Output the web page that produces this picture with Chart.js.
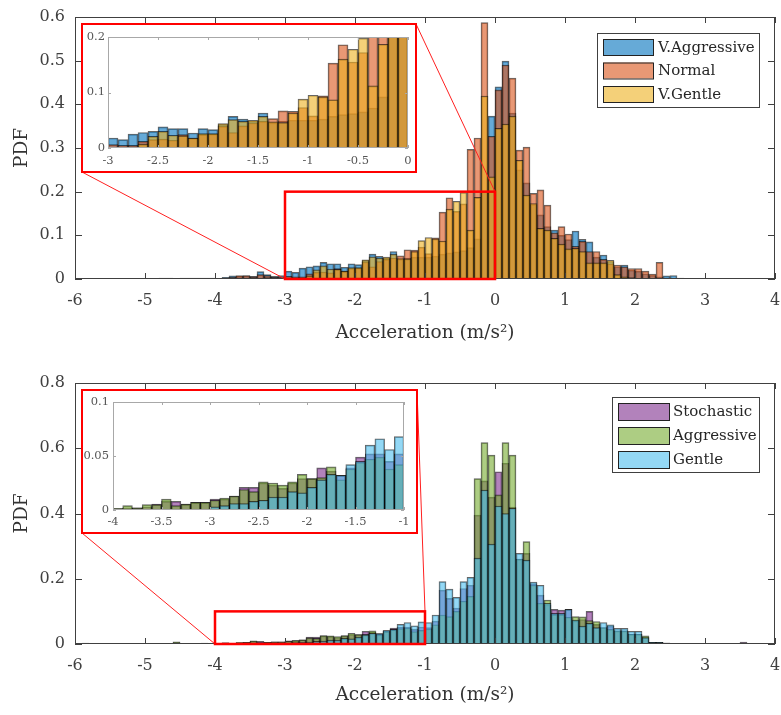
<!DOCTYPE html>
<html>
<head>
<meta charset="utf-8">
<script src="https://cdn.jsdelivr.net/npm/chart.js@4.4.0/dist/chart.umd.min.js"></script>
<style>
  body { margin: 0; background: #fff; }
  #wrap { position: relative; width: 781px; height: 715px; background: #fff; overflow: hidden; }
  canvas { position: absolute; }
  .inset { position: absolute; box-sizing: border-box; border: 2px solid #ff0000; background: #fff; }
  .inset canvas { left: 0; top: 0; }
</style>
</head>
<body>
<div id="wrap">
  <canvas id="top" width="781" height="350" style="left:0;top:0"></canvas>
  <canvas id="bot" width="781" height="360" style="left:0;top:355px"></canvas>
  <div class="inset" id="topInsetBox" style="left:81px;top:23px;width:336px;height:150px"><canvas id="topInset" width="332" height="146"></canvas></div>
  <div class="inset" id="botInsetBox" style="left:81px;top:389px;width:337px;height:145px"><canvas id="botInset" width="333" height="141"></canvas></div>
</div>
<script>
// histogram bins: 0.1 wide, first bin starts at -6
const binStart = -6;
const binWidth = 0.1;

// top panel (PDF per bin, -6.0 ... 3.9)
const vAggressive = [
  0, 0, 0, 0, 0, 0, 0, 0, 0, 0,
  0, 0, 0.002, 0.002, 0, 0, 0, 0, 0, 0,
  0, 0.004, 0.007, 0.006, 0.007, 0.006, 0.017, 0.010, 0.006, 0.008,
  0.018, 0.015, 0.025, 0.028, 0.030, 0.038, 0.035, 0.035, 0.027, 0.035,
  0.033, 0.042, 0.057, 0.052, 0.048, 0.063, 0.045, 0.048, 0.050, 0.050,
  0.050, 0.052, 0.057, 0.060, 0.062, 0.065, 0.072, 0.092, 0.200, 0.373,
  0.440, 0.499, 0.380, 0.250, 0.220, 0.170, 0.147, 0.120, 0.112, 0.100,
  0.090, 0.110, 0.091, 0.085, 0.050, 0.055, 0.040, 0.028, 0.032, 0.020,
  0.018, 0.012, 0.008, 0.005, 0.007, 0.008, 0.002, 0.001, 0, 0,
  0, 0, 0, 0, 0, 0, 0, 0, 0, 0
];
const normal = [
  0, 0, 0, 0, 0, 0, 0, 0, 0, 0,
  0, 0, 0, 0, 0, 0.002, 0.002, 0, 0, 0,
  0, 0, 0.004, 0.008, 0.008, 0.005, 0.010, 0.008, 0.004, 0.005,
  0.006, 0.005, 0.005, 0.012, 0.015, 0.016, 0.014, 0.024, 0.018, 0.024,
  0.025, 0.039, 0.028, 0.040, 0.045, 0.048, 0.053, 0.067, 0.066, 0.073,
  0.058, 0.094, 0.153, 0.186, 0.155, 0.172, 0.297, 0.323, 0.587, 0.327,
  0.433, 0.490, 0.460, 0.295, 0.302, 0.196, 0.204, 0.169, 0.106, 0.120,
  0.103, 0.075, 0.086, 0.063, 0.063, 0.045, 0.035, 0.032, 0.028, 0.024,
  0.024, 0.018, 0.011, 0.038, 0.002, 0, 0, 0, 0, 0,
  0, 0, 0, 0, 0, 0, 0, 0, 0, 0
];
const vGentle = [
  0, 0, 0, 0, 0, 0, 0, 0, 0, 0,
  0, 0, 0, 0, 0, 0, 0, 0.002, 0.002, 0.002,
  0, 0, 0, 0, 0.002, 0, 0, 0.003, 0, 0.002,
  0, 0.001, 0.002, 0.007, 0.021, 0.030, 0.023, 0.022, 0.018, 0.026,
  0.026, 0.044, 0.051, 0.048, 0.050, 0.057, 0.047, 0.046, 0.063, 0.088,
  0.095, 0.092, 0.087, 0.160, 0.178, 0.198, 0.112, 0.187, 0.419, 0.234,
  0.345, 0.355, 0.373, 0.272, 0.192, 0.173, 0.116, 0.112, 0.093, 0.080,
  0.069, 0.070, 0.063, 0.037, 0.037, 0.037, 0.043, 0.010, 0.005, 0.003,
  0, 0, 0, 0, 0, 0, 0, 0, 0, 0,
  0, 0, 0, 0, 0, 0, 0, 0, 0, 0
];

// bottom panel
const stochastic = [
  0, 0.003, 0, 0, 0, 0, 0, 0, 0, 0,
  0, 0, 0, 0, 0.004, 0, 0, 0, 0.003, 0,
  0.001, 0.002, 0.002, 0.003, 0.0055, 0.008, 0.008, 0.0055, 0.007, 0.007,
  0.010, 0.010, 0.013, 0.021, 0.021, 0.025, 0.023, 0.020, 0.025, 0.029,
  0.029, 0.039, 0.036, 0.032, 0.039, 0.049, 0.052, 0.052, 0.045, 0.052,
  0.050, 0.070, 0.165, 0.140, 0.110, 0.170, 0.180, 0.395, 0.500, 0.450,
  0.528, 0.554, 0.420, 0.260, 0.278, 0.185, 0.150, 0.120, 0.106, 0.104,
  0.106, 0.070, 0.075, 0.100, 0.060, 0.050, 0.055, 0.040, 0.040, 0.030,
  0.030, 0.020, 0.005, 0.005, 0.003, 0.002, 0, 0, 0, 0,
  0, 0, 0, 0, 0, 0.006, 0, 0, 0, 0
];
const aggressive = [
  0, 0.002, 0, 0, 0, 0, 0, 0, 0, 0,
  0, 0, 0, 0, 0.007, 0, 0, 0, 0.002, 0,
  0.0015, 0.004, 0.002, 0.005, 0.005, 0.010, 0.004, 0.0055, 0.007, 0.007,
  0.009, 0.011, 0.013, 0.019, 0.017, 0.026, 0.025, 0.023, 0.026, 0.033,
  0.029, 0.030, 0.040, 0.028, 0.038, 0.044, 0.047, 0.049, 0.038, 0.042,
  0.046, 0.059, 0.089, 0.084, 0.100, 0.131, 0.146, 0.507, 0.617, 0.579,
  0.457, 0.617, 0.579, 0.260, 0.314, 0.180, 0.125, 0.135, 0.090, 0.090,
  0.082, 0.084, 0.083, 0.072, 0.069, 0.050, 0.045, 0.040, 0.040, 0.030,
  0.030, 0.025, 0.005, 0.005, 0.003, 0.002, 0, 0, 0, 0,
  0, 0, 0, 0, 0, 0, 0, 0, 0, 0
];
const gentle = [
  0, 0, 0, 0, 0, 0, 0, 0, 0, 0,
  0, 0, 0, 0, 0, 0, 0, 0, 0, 0,
  0, 0, 0, 0, 0, 0, 0, 0, 0, 0,
  0.003, 0.004, 0.006, 0.006, 0.008, 0.009, 0.012, 0.012, 0.017, 0.016,
  0.021, 0.028, 0.033, 0.032, 0.042, 0.045, 0.060, 0.066, 0.056, 0.068,
  0.066, 0.089, 0.191, 0.168, 0.143, 0.191, 0.204, 0.263, 0.472, 0.306,
  0.423, 0.400, 0.416, 0.278, 0.257, 0.190, 0.180, 0.125, 0.094, 0.094,
  0.106, 0.073, 0.055, 0.063, 0.050, 0.066, 0.059, 0.048, 0.048, 0.039,
  0.039, 0.020, 0.005, 0.005, 0.003, 0.002, 0, 0, 0, 0,
  0, 0, 0, 0, 0, 0, 0, 0, 0, 0
];

const binCenters = vAggressive.map((_, i) => +(binStart + binWidth * (i + 0.5)).toFixed(2));

const SERIF = "'DejaVu Serif', 'Liberation Serif', serif";
const fmt = v => String(+(+v).toFixed(3));

function series(label, values, color, order) {
  return {
    label,
    data: values.map((v, i) => ({ x: binCenters[i], y: v })),
    backgroundColor: color,
    borderColor: 'rgba(0,0,0,0.6)',
    borderWidth: 1,
    order
  };
}

function line(ctx, x0, y0, x1, y1) {
  ctx.beginPath(); ctx.moveTo(x0, y0); ctx.lineTo(x1, y1); ctx.stroke();
}

// no extra room for the end labels, the plot box is set by the layout padding
function noPad(s) {
  s.paddingLeft = 0; s.paddingRight = 0; s.paddingTop = 0; s.paddingBottom = 0;
}

// box, inward ticks, zoom rectangle, connectors and legend for a main panel
function decor(cfg) {
  return {
    id: 'decor',
    afterDraw(chart) {
      const { ctx, chartArea: a, scales: { x, y } } = chart;
      ctx.save();
      ctx.strokeStyle = '#404040';
      ctx.lineWidth = 1;
      ctx.strokeRect(a.left + 0.5, a.top + 0.5, a.width - 1, a.height - 1);
      x.ticks.forEach(t => {
        const px = Math.round(x.getPixelForValue(t.value)) + 0.5;
        line(ctx, px, a.bottom, px, a.bottom - 6);
        line(ctx, px, a.top, px, a.top + 6);
      });
      y.ticks.forEach(t => {
        const py = Math.round(y.getPixelForValue(t.value)) + 0.5;
        line(ctx, a.left, py, a.left + 7, py);
        line(ctx, a.right, py, a.right - 7, py);
      });

      // zoom rectangle and connectors to the inset
      const rx0 = x.getPixelForValue(cfg.zoomX[0]), rx1 = x.getPixelForValue(cfg.zoomX[1]);
      const ry0 = y.getPixelForValue(0), ry1 = y.getPixelForValue(cfg.zoomY);
      const box = document.getElementById(cfg.insetId);
      const off = chart.canvas.offsetTop;
      const bx0 = box.offsetLeft + 1, bx1 = box.offsetLeft + box.offsetWidth - 1;
      const by0 = box.offsetTop - off + 1, by1 = box.offsetTop + box.offsetHeight - off - 1;
      ctx.strokeStyle = '#ff2020';
      ctx.lineWidth = 1;
      line(ctx, bx0, by1, rx0, ry0);
      line(ctx, bx1, by0, rx1, ry1);
      ctx.strokeStyle = '#ff0000';
      ctx.lineWidth = 2.5;
      ctx.strokeRect(rx0, ry1, rx1 - rx0, ry0 - ry1);

      // legend
      const L = cfg.legend;
      ctx.fillStyle = '#fff';
      ctx.fillRect(L.x, L.y, L.w, L.h);
      ctx.strokeStyle = '#404040';
      ctx.lineWidth = 1;
      ctx.strokeRect(L.x + 0.5, L.y + 0.5, L.w, L.h);
      ctx.font = '15px ' + SERIF;
      ctx.textBaseline = 'middle';
      chart.data.datasets.forEach((ds, i) => {
        const ty = L.rowY + i * L.step;
        ctx.fillStyle = ds.backgroundColor;
        ctx.fillRect(L.sx, ty, L.sw, L.sh);
        ctx.strokeStyle = '#222';
        ctx.strokeRect(L.sx + 0.5, ty + 0.5, L.sw, L.sh);
        ctx.fillStyle = '#262626';
        ctx.fillText(ds.label, L.tx, ty + L.sh / 2 + 1);
      });
      ctx.restore();
    }
  };
}

const insetFrame = {
  id: 'insetFrame',
  afterDraw(chart) {
    const { ctx, chartArea: a, scales: { x, y } } = chart;
    ctx.save();
    ctx.strokeStyle = '#a8a8a8';
    ctx.lineWidth = 1;
    ctx.strokeRect(a.left + 0.5, a.top + 0.5, a.width - 1, a.height - 1);
    x.ticks.forEach(t => {
      const px = Math.round(x.getPixelForValue(t.value)) + 0.5;
      line(ctx, px, a.bottom, px, a.bottom - 3);
      line(ctx, px, a.top, px, a.top + 3);
    });
    y.ticks.forEach(t => {
      const py = Math.round(y.getPixelForValue(t.value)) + 0.5;
      line(ctx, a.left, py, a.left + 3, py);
      line(ctx, a.right, py, a.right - 3, py);
    });
    ctx.restore();
  }
};

function mainOptions(yMax, yStep, padTop, titlePad) {
  const tickFont = { family: SERIF, size: 16 };
  const titleFont = { family: SERIF, size: 18.5 };
  return {
    responsive: false,
    animation: false,
    devicePixelRatio: 1,
    events: [],
    layout: { padding: { top: padTop, right: 6, left: 0, bottom: 0 } },
    datasets: { bar: { grouped: false, barPercentage: 1, categoryPercentage: 1 } },
    plugins: { legend: { display: false }, tooltip: { enabled: false } },
    scales: {
      x: {
        type: 'linear', min: -6, max: 4, offset: false,
        grid: { display: false, drawTicks: false }, border: { display: false },
        ticks: { stepSize: 1, autoSkip: false, maxRotation: 0, padding: 12, color: '#404040', font: tickFont, callback: fmt },
        title: { display: true, text: 'Acceleration (m/s²)', color: '#333', font: titleFont, padding: { top: 0, bottom: titlePad } },
        afterFit: s => { s.height = 71; noPad(s); }
      },
      y: {
        min: 0, max: yMax,
        grid: { display: false, drawTicks: false }, border: { display: false },
        ticks: { stepSize: yStep, padding: 10, color: '#404040', font: tickFont, callback: fmt },
        title: { display: true, text: 'PDF', color: '#333', font: titleFont, padding: { top: 11, bottom: 0 } },
        afterFit: s => { s.width = 75; noPad(s); }
      }
    }
  };
}

function insetOptions(xMin, xMax, yMax, yStep, pad, yw, xh, xPad, yPad) {
  const f = { family: SERIF, size: 11.5 };
  return {
    responsive: false,
    animation: false,
    devicePixelRatio: 1,
    events: [],
    layout: { padding: pad },
    datasets: { bar: { grouped: false, barPercentage: 1, categoryPercentage: 1 } },
    plugins: { legend: { display: false }, tooltip: { enabled: false } },
    scales: {
      x: {
        type: 'linear', min: xMin, max: xMax, offset: false,
        grid: { display: false, drawTicks: false }, border: { display: false },
        ticks: { stepSize: 0.5, autoSkip: false, maxRotation: 0, padding: xPad, color: '#555', font: f, callback: fmt },
        afterFit: s => { s.height = xh; noPad(s); }
      },
      y: {
        min: 0, max: yMax,
        grid: { display: false, drawTicks: false }, border: { display: false },
        ticks: { stepSize: yStep, padding: yPad, color: '#555', font: f, callback: fmt },
        afterFit: s => { s.width = yw; noPad(s); }
      }
    }
  };
}

const C = {
  blue: 'rgba(0,114,189,0.6)',
  red: 'rgba(217,83,25,0.6)',
  yellow: 'rgba(237,177,32,0.6)',
  purple: 'rgba(126,47,142,0.6)',
  green: 'rgba(119,172,48,0.6)',
  cyan: 'rgba(77,190,238,0.6)'
};

const topSets = () => [
  series('V.Aggressive', vAggressive, C.blue, 3),
  series('Normal', normal, C.red, 2),
  series('V.Gentle', vGentle, C.yellow, 1)
];
const botSets = () => [
  series('Stochastic', stochastic, C.purple, 3),
  series('Aggressive', aggressive, C.green, 2),
  series('Gentle', gentle, C.cyan, 1)
];

new Chart(document.getElementById('topInset'), {
  type: 'bar',
  data: { datasets: topSets() },
  options: insetOptions(-3, 0, 0.2, 0.1, { top: 12, right: 7, left: 0, bottom: 0 }, 25, 23, 6, 3),
  plugins: [insetFrame]
});

new Chart(document.getElementById('botInset'), {
  type: 'bar',
  data: { datasets: botSets() },
  options: insetOptions(-4, -1, 0.1, 0.05, { top: 11, right: 12, left: 0, bottom: 0 }, 30, 22, 5, 4),
  plugins: [insetFrame]
});

new Chart(document.getElementById('top'), {
  type: 'bar',
  data: { datasets: topSets() },
  options: mainOptions(0.6, 0.1, 17, 6),
  plugins: [decor({
    zoomX: [-3, 0], zoomY: 0.2, insetId: 'topInsetBox',
    legend: { x: 597, y: 33, w: 162, h: 74, sx: 603, sw: 50, sh: 16, rowY: 39, step: 23.5, tx: 658 }
  })]
});

new Chart(document.getElementById('bot'), {
  type: 'bar',
  data: { datasets: botSets() },
  options: mainOptions(0.8, 0.2, 28, 9),
  plugins: [decor({
    zoomX: [-4, -1], zoomY: 0.1, insetId: 'botInsetBox',
    legend: { x: 612, y: 42, w: 147, h: 75, sx: 618, sw: 51, sh: 17, rowY: 48, step: 24, tx: 673 }
  })]
});
</script>
</body>
</html>
